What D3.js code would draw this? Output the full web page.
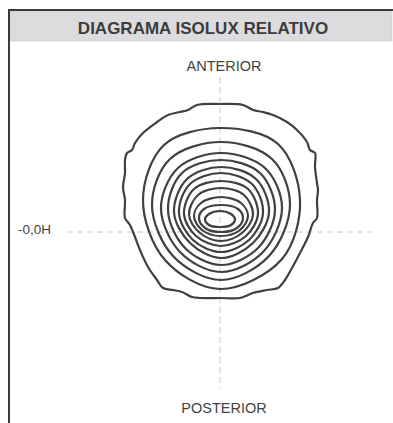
<!DOCTYPE html>
<html lang="es">
<head>
  <meta charset="UTF-8">
  <title>Diagrama isolux relativo</title>
  <script src="https://d3js.org/d3.v7.min.js"></script>
  <style>
    body { margin: 0; background: #fff; }
    text { font-family: "Liberation Sans", Arial, sans-serif; fill: #444; }
  </style>
</head>
<body>
<svg width="393" height="423"></svg>
<script>
  const title = "DIAGRAMA ISOLUX RELATIVO";
  const topLabel = "ANTERIOR";
  const bottomLabel = "POSTERIOR";
  const hLabel = "-0,0H";

  // isolux curves, outermost first; [x, y] in chart units, y up, origin at axis crossing
  const curve1 = [[0,128],[23,127],[33,122],[43,120],[53,117],[67,110],[77,102],[87,90],[90,82],[95,79],
    [95,65],[97,49],[98,42],[97,32],[97,14],[93,9],[88,-5],[80,-21],[72,-36],[65,-48],[58,-56],[47,-58],
    [33,-61],[20,-66],[0,-66],[-20,-66],[-28,-65],[-38,-60],[-47,-58],[-57,-56],[-63,-48],[-72,-35],
    [-80,-18],[-85,-5],[-90,7],[-95,14],[-95,32],[-97,45],[-95,59],[-95,72],[-93,79],[-88,82],[-85,89],
    [-77,99],[-63,110],[-52,117],[-40,120],[-32,122],[-23,127]];
  const curve2 = [[0,104],[58,88],[80,32],[62,-27],[0,-57],[-55,-28],[-77,32],[-56,87]];
  const curve3 = [[1,90],[52,73],[70,27],[49,-24],[1,-48],[-47,-24],[-68,27],[-50,73]];
  const curve4 = [[1,79],[45,64],[62,24],[43,-20],[1,-40],[-40,-20],[-59,24],[-42,64]];
  const curve5 = [[1,72],[40,59],[55,22],[38,-16],[1,-33],[-35,-16],[-52,22],[-38,59]];
  const curve6 = [[1,65],[36,53],[49,20],[33,-11],[1,-26],[-30,-11],[-46,20],[-33,53]];
  const curve7 = [[1,59],[32,48],[43,19],[29,-8],[1,-20],[-27,-8],[-41,19],[-30,48]];
  const curve8 = [[1,51],[28,43],[38,18],[26,-4],[1,-14],[-24,-4],[-36,18],[-26,43]];
  const curve9 = [[1,44],[24,37],[33,17],[22,-1],[1,-9],[-20,-1],[-31,17],[-22,37]];
  const curve10 = [[1,35],[21,29],[28,16],[20,2],[1,-4],[-18,2],[-26,16],[-19,29]];
  const curve11 = [[1,27],[18,23],[23,14],[17,4],[1,0],[-15,4],[-21,14],[-16,23]];
  const curve12 = [[0,21],[11,18],[15,13],[11,7],[0,5],[-11,7],[-15,13],[-11,18]];
  const curves = [curve1, curve2, curve3, curve4, curve5, curve6, curve7, curve8, curve9, curve10, curve11, curve12];

  const svg = d3.select("svg");

  const x = d3.scaleLinear().domain([-110, 110]).range([110, 330]);
  const y = d3.scaleLinear().domain([-110, 110]).range([342, 122]);

  // frame + title band
  svg.append("rect").attr("x", 10).attr("y", 11).attr("width", 382).attr("height", 30)
    .attr("fill", "#dcdcde").attr("stroke", "#c8c8ca").attr("stroke-width", 0.6);
  svg.append("line").attr("x1", 8).attr("x2", 393).attr("y1", 10).attr("y2", 10)
    .attr("stroke", "#3a3a3a").attr("stroke-width", 2);
  svg.append("line").attr("x1", 9).attr("x2", 9).attr("y1", 9).attr("y2", 423)
    .attr("stroke", "#3a3a3a").attr("stroke-width", 2);

  svg.append("text").attr("x", 203).attr("y", 33.5).attr("text-anchor", "middle")
    .attr("font-size", 17).attr("font-weight", "bold").style("fill", "#3c3c3c").text(title);

  // axes
  svg.append("line").attr("x1", x(0)).attr("x2", x(0)).attr("y1", 77).attr("y2", 388)
    .attr("stroke", "#c8c8c8").attr("stroke-dasharray", "6,4");
  svg.append("line").attr("x1", 67).attr("x2", 372).attr("y1", y(0)).attr("y2", y(0))
    .attr("stroke", "#c8c8c8").attr("stroke-dasharray", "6,4");

  svg.append("text").attr("x", 224).attr("y", 71).attr("text-anchor", "middle")
    .attr("font-size", 14.5).text(topLabel);
  svg.append("text").attr("x", 224).attr("y", 412.5).attr("text-anchor", "middle")
    .attr("font-size", 14.5).text(bottomLabel);
  svg.append("text").attr("x", 18).attr("y", 233.5).attr("font-size", 13.5).text(hLabel);

  const line = d3.line()
    .x(d => x(d[0]))
    .y(d => y(d[1]))
    .curve(d3.curveCatmullRomClosed.alpha(0.5));

  svg.append("g").selectAll("path")
    .data(curves)
    .enter()
    .append("path")
    .attr("d", d => line(d))
    .attr("fill", "none")
    .attr("stroke", "#404040")
    .attr("stroke-width", 2.2)
    .attr("stroke-linejoin", "round");
</script>
</body>
</html>
